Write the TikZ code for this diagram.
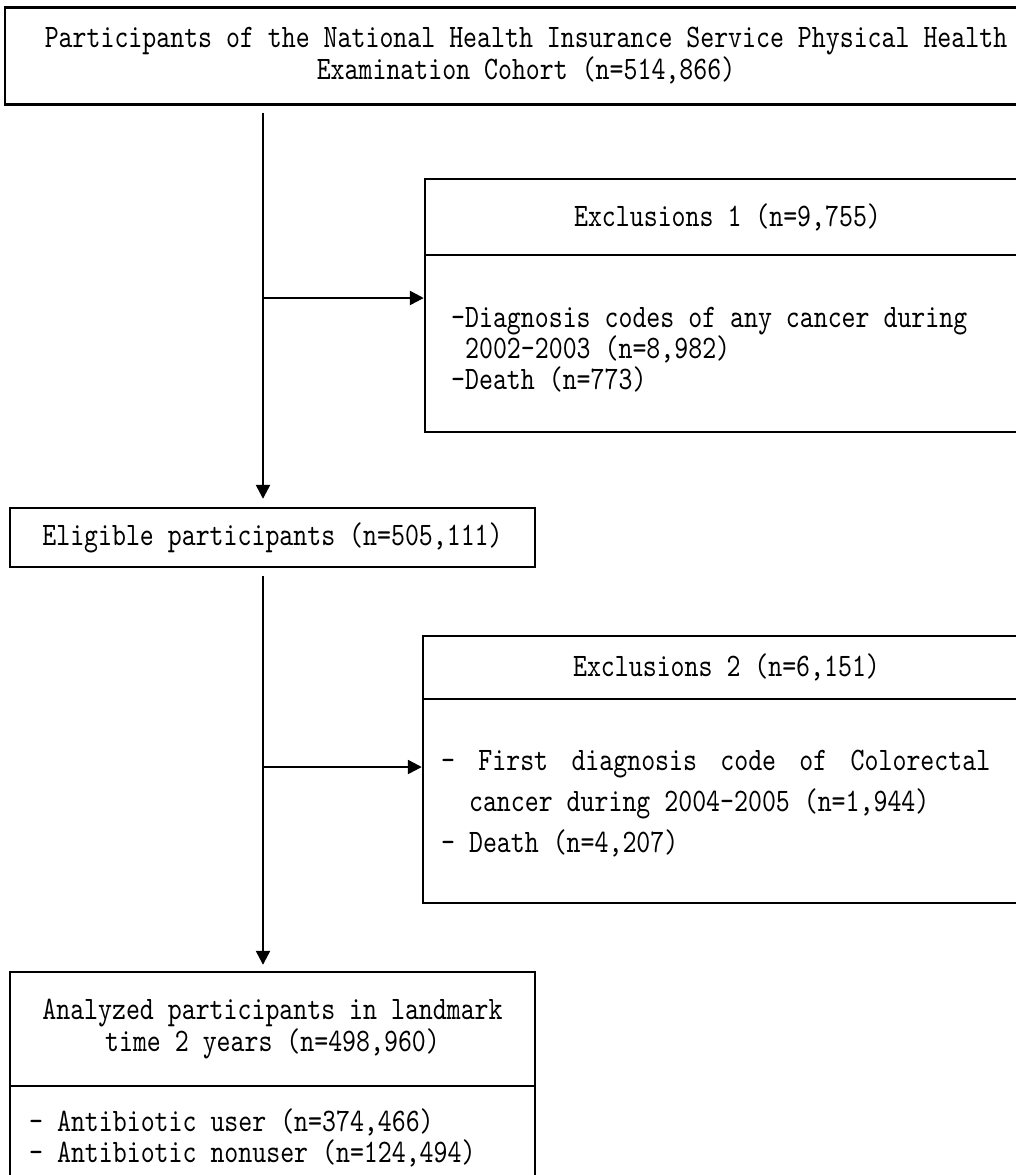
\documentclass[tikz,border=0pt]{standalone}
\usepackage{fontspec}
\newfontfamily\hwp{lmmono10-regular.otf}[FakeStretch=0.81]
\newcommand\boxfont[1]{\hwp\fontsize{16.4pt}{#1}\selectfont}
\usetikzlibrary{arrows.meta,positioning}

\begin{document}
\begin{tikzpicture}[x=0.5pt,y=-0.5pt,line width=1.2pt,
  frame/.style={draw,rectangle,inner sep=0pt},
  flow/.style={-{Triangle[length=7pt,width=7pt]}},
  txt/.style={inner sep=0pt,align=left}] % flow chart of the cohort selection
\useasboundingbox (0,0) rectangle (1016,1175);

\coordinate (trunk) at (263,0);
\coordinate (fork1) at (263,298);
\coordinate (fork2) at (263,767);

% main column
\node[frame,minimum width=521pt,minimum height=48.5pt,align=center,font=\boxfont{16pt}] (cohort) at (526,56) {Participants of the National Health Insurance Service Physical Health\\Examination Cohort (n=514,866)};
\node[frame,minimum width=262.5pt,minimum height=29.5pt,font=\boxfont{16pt}] (elig) at (272.5,537.5) {Eligible participants (n=505,111)};
\node[frame,minimum width=262.5pt,minimum height=57pt,align=center,font=\boxfont{16pt}] (analyzed) at (272.5,1029) {Analyzed participants in landmark\\time 2 years (n=498,960)};
\node[frame,minimum width=262.5pt,minimum height=52pt] (groups) at (272.5,1138) {};
\node[txt,anchor=west,font=\boxfont{15.5pt}] (grouplist) at (28,1138) {- Antibiotic user (n=374,466)\\- Antibiotic nonuser (n=124,494)};

% exclusion boxes
\node[frame,minimum width=302.5pt,minimum height=38pt,font=\boxfont{16pt}] (excl1head) at (727.5,217) {Exclusions 1 (n=9,755)};
\node[frame,minimum width=302.5pt,minimum height=88.5pt] (excl1body) at (727.5,343.5) {};
\node[txt,anchor=west,font=\boxfont{15.5pt}] (excl1list) at (450,350) {-Diagnosis codes of any cancer during\\\phantom{-}2002-2003 (n=8,982)\\-Death (n=773)};

\node[frame,minimum width=303.5pt,minimum height=31.5pt,font=\boxfont{16pt}] (excl2head) at (726.5,667.5) {Exclusions 2 (n=6,151)};
\node[frame,minimum width=303.5pt,minimum height=102pt] (excl2body) at (726.5,801) {};
\node[txt,anchor=west,font=\boxfont{20.5pt}] (excl2list) at (440,804) {\makebox[274.5pt][s]{- \hfill First \hfill diagnosis \hfill code \hfill of \hfill Colorectal}\\\phantom{-}\phantom{-}cancer during 2004-2005 (n=1,944)\\- Death (n=4,207)};

% arrows
\draw[flow] ([yshift=-3.5pt]cohort.south -| trunk) -- ([yshift=4pt]elig.north -| trunk);
\draw[flow] ([yshift=-4pt]elig.south -| trunk) -- ([yshift=3pt]analyzed.north -| trunk);
\draw[flow] (fork1) -- (fork1 -| excl1body.west);
\draw[flow] (fork2) -- (fork2 -| excl2body.west);

\end{tikzpicture}
\end{document}
